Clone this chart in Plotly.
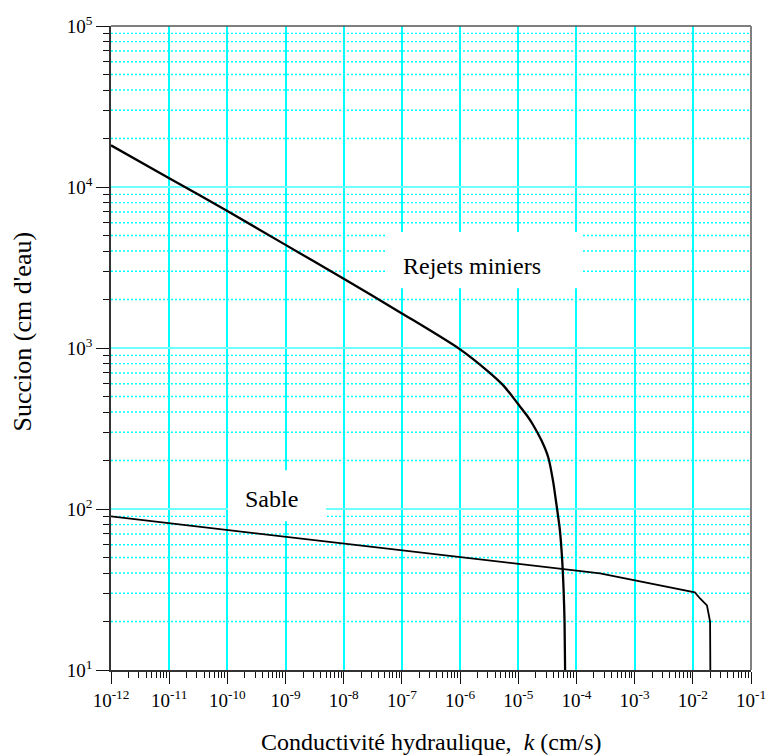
import plotly.graph_objects as go

# ---- data ----
rejets_k = [1e-12, 1e-11, 1e-10, 1e-9, 1e-8, 1e-7, 1e-6, 2.88e-6, 5.62e-6, 1e-5,
            1.40e-5, 1.78e-5, 2.51e-5, 3.28e-5, 3.95e-5, 4.37e-5, 5.19e-5,
            5.65e-5, 6.0e-5, 6.24e-5, 6.38e-5]
rejets_psi = [18150, 11350, 7100, 4370, 2690, 1640, 980, 726, 582, 447,
              382, 335, 266, 209, 150, 117, 74,
              50, 32, 20, 10]

sable_k = [1e-12, 2.54e-4, 1.08e-2, 1.33e-2, 1.75e-2, 1.98e-2, 2.0e-2]
sable_psi = [90, 39.8, 30.4, 27.8, 25.2, 20, 10]

x_tickvals = [1e-12, 1e-11, 1e-10, 1e-9, 1e-8, 1e-7, 1e-6, 1e-5, 1e-4, 1e-3, 1e-2, 1e-1]
x_ticktext = ["10<sup>-12</sup>", "10<sup>-11</sup>", "10<sup>-10</sup>", "10<sup>-9</sup>",
              "10<sup>-8</sup>", "10<sup>-7</sup>", "10<sup>-6</sup>", "10<sup>-5</sup>",
              "10<sup>-4</sup>", "10<sup>-3</sup>", "10<sup>-2</sup>", "10<sup>-1</sup>"]
y_tickvals = [10, 100, 1000, 10000, 100000]
y_ticktext = ["10<sup>1</sup>", "10<sup>2</sup>", "10<sup>3</sup>", "10<sup>4</sup>", "10<sup>5</sup>"]

x_title = "Conductivité hydraulique,  <i>k</i> (cm/s)"
y_title = "Succion (cm d'eau)"
label_rejets = "Rejets miniers"
label_sable = "Sable"

# minor tick positions (2..9 in each decade)
x_minor = [m * 10.0 ** e for e in range(-12, -1) for m in range(2, 10)]
y_minor = [m * 10.0 ** e for e in range(1, 5) for m in range(2, 10)]

FONT = "Liberation Serif, Times New Roman, serif"
CYAN = "#00ffff"

fig = go.Figure()
fig.add_trace(go.Scatter(x=rejets_k, y=rejets_psi, mode="lines",
                         line=dict(color="black", width=2.3, shape="spline", smoothing=0.8),
                         showlegend=False, hoverinfo="skip"))
fig.add_trace(go.Scatter(x=sable_k, y=sable_psi, mode="lines",
                         line=dict(color="black", width=1.8),
                         showlegend=False, hoverinfo="skip"))

# dotted minor horizontal grid
for v in y_minor:
    fig.add_shape(type="line", xref="paper", yref="y", x0=0, x1=1, y0=v, y1=v,
                  line=dict(color=CYAN, width=1.4, dash="2px,2px"), layer="between")

# white label boxes
fig.add_shape(type="rect", xref="x", yref="y", x0=10 ** -7.256, x1=10 ** -3.887,
              y0=10 ** 3.371, y1=10 ** 3.72,
              fillcolor="white", line=dict(width=0), layer="above")
fig.add_shape(type="rect", xref="x", yref="y", x0=10 ** -9.989, x1=10 ** -8.305,
              y0=10 ** 1.924, y1=10 ** 2.240,
              fillcolor="white", line=dict(width=0), layer="above")

# top and right frame lines (grey)
fig.add_shape(type="line", xref="paper", yref="paper", x0=0, x1=1, y0=1, y1=1,
              line=dict(color="#555555", width=1.5), layer="above")
fig.add_shape(type="line", xref="paper", yref="paper", x0=1, x1=1, y0=0, y1=1,
              line=dict(color="#808080", width=2), layer="above")

fig.add_annotation(x=-5.795, y=3.507, xref="x", yref="y", text=label_rejets, showarrow=False,
                   font=dict(family=FONT, size=24, color="black"))
fig.add_annotation(x=-9.25, y=2.06, xref="x", yref="y", text=label_sable, showarrow=False,
                   font=dict(family=FONT, size=24, color="black"))

# axis titles
fig.add_annotation(xref="paper", yref="paper", x=0.5, y=0, yshift=-72, text=x_title,
                   showarrow=False, xanchor="center", yanchor="middle",
                   font=dict(family=FONT, size=24, color="black"))
fig.add_annotation(xref="paper", yref="paper", x=0, xshift=-88.5, y=0.5248, text=y_title,
                   showarrow=False, textangle=-90, xanchor="center", yanchor="middle",
                   font=dict(family=FONT, size=26, color="black"))

fig.update_xaxes(type="log", range=[-12, -1], automargin=False,
                 tickmode="array", tickvals=x_tickvals, ticktext=x_ticktext,
                 ticks="outside", ticklen=12, tickwidth=1.3, tickcolor="#111",
                 tickfont=dict(family=FONT, size=19, color="black"),
                 showline=True, linecolor="#333", linewidth=1.5, mirror=False,
                 showgrid=True, gridcolor=CYAN, gridwidth=1.5, zeroline=False,
                 minor=dict(tickmode="array", tickvals=x_minor, ticks="outside", ticklen=6,
                            tickwidth=1.2, tickcolor="#111", showgrid=False))
fig.update_yaxes(type="log", range=[1, 5], automargin=False,
                 tickmode="array", tickvals=y_tickvals, ticktext=y_ticktext,
                 ticks="outside", ticklen=13, tickwidth=1.3, tickcolor="#111",
                 tickfont=dict(family=FONT, size=19, color="black"),
                 showline=True, linecolor="#333", linewidth=1.5, mirror=False,
                 showgrid=True, gridcolor="#70ffff", gridwidth=2, zeroline=False,
                 minor=dict(tickmode="array", tickvals=y_minor, ticks="outside", ticklen=6,
                            tickwidth=1.2, tickcolor="#111", showgrid=False))

fig.update_layout(width=770, height=756, margin=dict(l=111, r=19, t=26, b=86, autoexpand=False),
                  font=dict(family=FONT, color="black"),
                  plot_bgcolor="white", paper_bgcolor="white", showlegend=False)

fig.write_html("out.html")
